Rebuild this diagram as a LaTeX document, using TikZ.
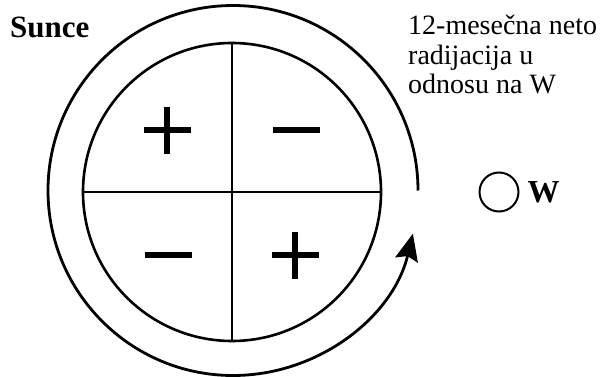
\documentclass[tikz,border=0pt]{standalone}
\usepackage{fontspec}
\setmainfont{Liberation Serif}
\definecolor{ink}{HTML}{000000}
\usetikzlibrary{arrows.meta,positioning,calc}

\begin{document}
\begin{tikzpicture}[x=1pt,y=1pt,node distance=8pt,every node/.style={font=\rmfamily,text=ink}]
\tikzstyle{disk}=[circle,draw=ink,line width=2.6pt,minimum size=298pt,inner sep=0pt]
\tikzstyle{divider}=[draw=ink,line width=2pt]
\tikzstyle{orbit}=[draw=ink,line width=2.8pt,-{Stealth[length=27pt,width=23pt,inset=4pt]}]
\tikzstyle{sign}=[draw=ink,line width=6pt]
\useasboundingbox (0,0) rectangle (608,376);
\node[disk] (disk) at (232,184) {};
\coordinate (mid) at (233,185.5);
\draw[divider] (disk.north)--(disk.south);
\draw[divider] (disk.west)--(disk.east);
\draw[orbit] ($(mid)+(0:185)$) arc[start angle=0,end angle=346.5,radius=185];
% plus and minus signs
\foreach \x/\y in {167/246,295/121} \draw[sign] (\x-23.5,\y)--(\x+23.5,\y) (\x,\y-23.5)--(\x,\y+23.5);
\foreach \x/\y in {296/246,168/121} \draw[sign] (\x-23.5,\y)--(\x+23.5,\y);
\node[anchor=base west,inner sep=0pt,font=\fontsize{31}{31}\selectfont\bfseries] (sunce) at (10,338) {Sunce};
\node[anchor=north west,inner sep=0pt,align=left,font=\fontsize{28}{29.5}\selectfont] (note) at (408,361) {12-mesečna neto\\radijacija u\\odnosu na W};
\node[circle,draw=ink,line width=2pt,minimum size=39pt,inner sep=0pt] (wpt) at (499,184) {};
\node[right=8pt of wpt,inner sep=0pt,font=\fontsize{32}{32}\selectfont\bfseries] (wlabel) {W};
\end{tikzpicture}
\end{document}
